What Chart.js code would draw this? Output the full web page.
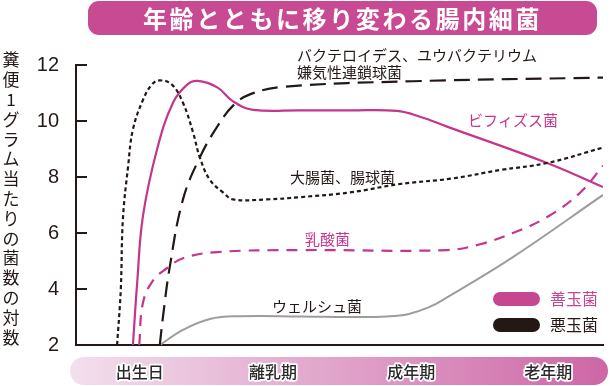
<!DOCTYPE html>
<html><head><meta charset="utf-8">
<script src="https://cdn.jsdelivr.net/npm/chart.js@4/dist/chart.umd.min.js"></script>
<style>
html,body{margin:0;padding:0;background:#fff;}
#wrap{position:relative;width:610px;height:386px;}
#title{position:absolute;left:88px;top:1px;width:509px;height:34px;background:#c74a93;border-radius:11px;
color:#fff;font:bold 24px "Noto Sans CJK JP";letter-spacing:2.6px;text-align:center;line-height:34px;}
canvas{position:absolute;left:0;top:0;}
</style></head><body>
<div id="wrap"><canvas id="c" width="610" height="386"></canvas>
<div id="title">年齢とともに移り変わる腸内細菌</div></div>
<script>
// ---- data ----
const stageLabels = ['出生日','離乳期','成年期','老年期'];
const stageX = [12.1, 37.4, 63.6, 89.6];
const yTicks = [2,4,6,8,10,12];
const yTitle = '糞便1グラム当たりの菌数の対数';

const bacteroidesX = [15.9,16.5,17.8,20.3,23.5,26.8,29.8,33.0,39.3,63.9,100];
const bacteroidesY = [2,3.0,4.8,7.2,8.7,9.8,10.55,10.95,11.22,11.42,11.55];

const coliX = [7.8,8.5,8.9,9.9,10.8,12.7,14.4,15.9,18.2,20.3,22.2,23.5,25.4,27.9,29.8,36.2,42.5,52,61.5,71.5,80.5,89.4,100];
const coliY = [2,4.0,6.5,8.4,9.7,10.75,11.3,11.45,11.3,10.65,9.6,8.7,7.9,7.45,7.2,7.2,7.28,7.45,7.75,7.95,8.25,8.5,9.05];

const bifidoX = [10.8,11.6,12.7,15.4,18.4,21.1,23.1,26.8,29.8,33.6,42.5,52,60.9,65.3,70.4,89.4,100];
const bifidoY = [2,4.2,6.6,9.0,10.65,11.3,11.43,11.2,10.7,10.4,10.38,10.38,10.36,10.15,9.8,8.5,7.64];

const lactoX = [12.0,12.7,14.6,17.3,20.3,26.8,42.5,70.4,76.7,82.9,89.4,95.6,100];
const lactoY = [2,3.5,4.3,4.75,5.1,5.32,5.39,5.39,5.6,6.0,6.57,7.43,8.4];

const welchiiX = [15.9,20.3,25.4,31.1,42.5,52,59,63,67,70.4,82.9,100];
const welchiiY = [2,2.54,2.93,3.03,3.02,3.0,3.02,3.1,3.35,3.7,5.14,7.36];

const pts = (xs, ys) => xs.map((x,i)=>({x, y: ys[i]}));

const MAG = '#c4358b', BLK = '#231815', GRY = '#9d9d9d';
const JP = '"Noto Sans CJK JP"';

const decor = {
  id: 'decor',
  afterDraw(chart){
    const {ctx, scales:{x, y}} = chart;
    ctx.save();
    // inner tick marks
    ctx.strokeStyle = BLK; ctx.lineWidth = 2;
    const x0 = x.left;
    yTicks.forEach(v => {
      if (v === 2) return;
      const py = Math.round(y.getPixelForValue(v));
      ctx.beginPath(); ctx.moveTo(x0, py); ctx.lineTo(x0 + 11, py); ctx.stroke();
    });
    // vertical y title
    ctx.fillStyle = BLK; ctx.font = '17px ' + JP; ctx.textAlign = 'center'; ctx.textBaseline = 'middle';
    [...yTitle].forEach((ch, i) => ctx.fillText(ch, 11, 60 + i * 19.8));
    // bottom band
    const bx = 70, by = 357, bw = 538, bh = 28, r = 14;
    const g = ctx.createLinearGradient(bx, 0, bx + bw, 0);
    g.addColorStop(0, '#f3e0ed'); g.addColorStop(1, '#cd66a6');
    ctx.fillStyle = g;
    ctx.beginPath(); ctx.roundRect(bx, by, bw, bh, r); ctx.fill();
    ctx.font = '500 16px ' + JP; ctx.lineJoin = 'round';
    stageLabels.forEach((t, i) => {
      const px = x.getPixelForValue(stageX[i]);
      ctx.strokeStyle = '#fff'; ctx.lineWidth = 3.5; ctx.strokeText(t, px, 372);
      ctx.fillStyle = '#2a2a2a'; ctx.fillText(t, px, 372);
    });
    // curve labels
    ctx.textAlign = 'left'; ctx.font = '15px ' + JP;
    const lab = (t, px, py, c) => { ctx.fillStyle = c; ctx.fillText(t, px, py); };
    lab('バクテロイデス、ユウバクテリウム', 297, 55, BLK);
    lab('嫌気性連鎖球菌', 297, 72, BLK);
    lab('ビフィズス菌', 468, 120, MAG);
    lab('大腸菌、腸球菌', 290, 177, BLK);
    lab('乳酸菌', 305, 239, MAG);
    lab('ウェルシュ菌', 272, 306, BLK);
    // legend
    ctx.fillStyle = '#c6468f'; ctx.beginPath(); ctx.roundRect(493, 292, 47, 14, 7); ctx.fill();
    ctx.fillStyle = BLK; ctx.beginPath(); ctx.roundRect(493, 318, 47, 14, 7); ctx.fill();
    ctx.font = '16px ' + JP;
    lab('善玉菌', 550, 299, '#c6468f');
    lab('悪玉菌', 550, 325, BLK);
    ctx.restore();
  }
};

const ds = (label, data, color, dash, w) => ({
  label, data, borderColor: color, borderWidth: w || 2.2, borderDash: dash || [],
  pointRadius: 0, fill: false, tension: 0.4, borderCapStyle: 'butt'
});

new Chart(document.getElementById('c'), {
  type: 'line',
  data: { datasets: [
    ds('バクテロイデス、ユウバクテリウム、嫌気性連鎖球菌', pts(bacteroidesX, bacteroidesY), BLK, [16,8]),
    ds('大腸菌、腸球菌', pts(coliX, coliY), BLK, [4,3]),
    ds('ウェルシュ菌', pts(welchiiX, welchiiY), GRY, [], 2),
    ds('乳酸菌', pts(lactoX, lactoY), MAG, [11,8]),
    ds('ビフィズス菌', pts(bifidoX, bifidoY), MAG, []),
  ]},
  options: {
    responsive: false, animation: false, devicePixelRatio: 1,
    layout: { padding: { top: 65, right: 7, bottom: 41, left: 0 } },
    plugins: { legend: { display: false }, tooltip: { enabled: false } },
    scales: {
      x: { type: 'linear', min: 0, max: 100,
        ticks: { display: false }, grid: { display: false, drawTicks: false },
        border: { display: true, color: BLK, width: 2 },
        afterFit: s => { s.height = 0; } },
      y: { type: 'linear', min: 2, max: 12,
        afterBuildTicks: s => { s.ticks = yTicks.map(v => ({ value: v })); },
        ticks: { color: BLK, padding: 17, font: { family: '"Liberation Sans"', size: 20 } },
        grid: { display: false, drawTicks: false },
        border: { display: true, color: BLK, width: 2 },
        afterFit: s => { s.width = 76; } }
    }
  },
  plugins: [decor]
});
</script></body></html>
